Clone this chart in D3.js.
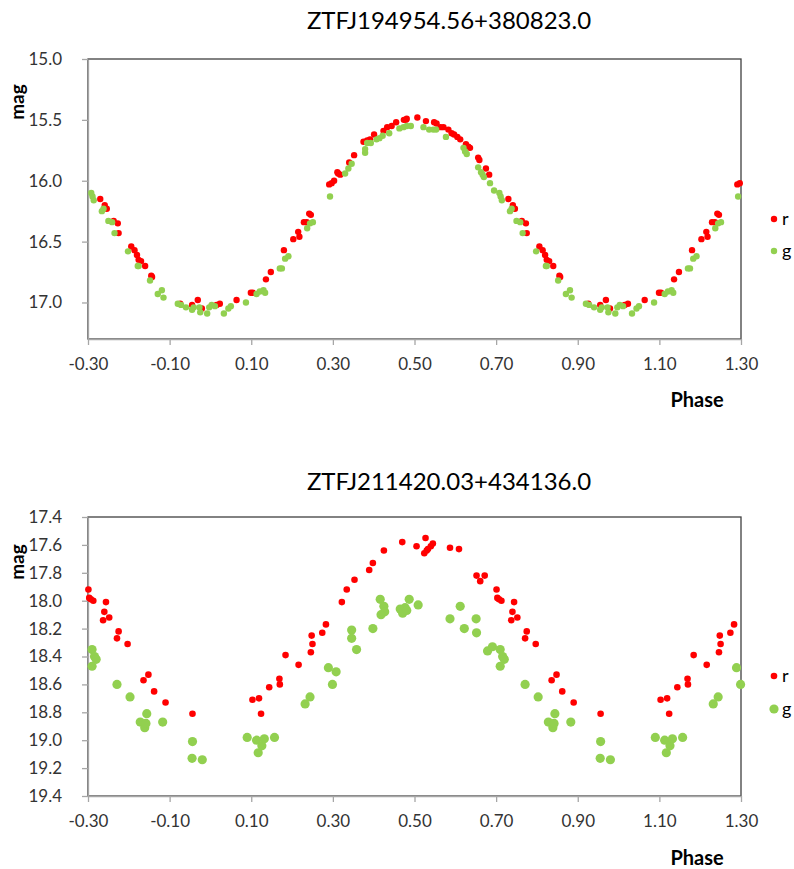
<!DOCTYPE html>
<html>
<head>
<meta charset="utf-8">
<script src="https://cdn.jsdelivr.net/npm/d3@7"></script>
<style>
  body { margin: 0; background: #fff; }
  text { font-family: Lato, "Open Sans", sans-serif; }
</style>
</head>
<body>
<div id="wrapper"></div>
<script>
// phase ticks shared by both panels
const phaseTicks = [-0.30, -0.10, 0.10, 0.30, 0.50, 0.70, 0.90, 1.10, 1.30];

// ZTFJ194954.56+380823.0 -- [phase, mag], phase 0..1
const topR = [[0.015,17.02],[0.023,17.01],[0.064,16.98],[0.099,16.92],[0.104,16.92],[0.136,16.81],[0.148,16.75],
  [0.180,16.57],[0.203,16.48],[0.215,16.42],[0.218,16.46],[0.229,16.34],[0.236,16.34],[0.242,16.27],[0.246,16.28],
  [0.291,16.03],[0.297,16.02],[0.303,16.00],[0.311,15.93],[0.313,15.94],[0.318,15.95],[0.340,15.85],[0.352,15.79],
  [0.375,15.68],[0.384,15.67],[0.391,15.66],[0.401,15.62],[0.424,15.59],[0.433,15.56],[0.444,15.55],[0.455,15.52],
  [0.474,15.50],[0.479,15.50],[0.481,15.49],[0.507,15.48],[0.528,15.51],[0.548,15.52],[0.554,15.53],[0.564,15.56],
  [0.571,15.56],[0.583,15.58],[0.591,15.61],[0.597,15.62],[0.605,15.64],[0.612,15.66],[0.626,15.70],[0.632,15.72],
  [0.636,15.73],[0.656,15.81],[0.659,15.83],[0.675,15.90],[0.683,15.95],[0.730,16.15],[0.741,16.20],[0.746,16.23],
  [0.763,16.33],[0.773,16.35],[0.775,16.43],[0.806,16.54],[0.814,16.57],[0.820,16.61],[0.824,16.65],[0.830,16.66],
  [0.840,16.70],[0.855,16.78],[0.857,16.79],[0.926,17.01],[0.955,17.02],[0.969,16.98],[0.979,17.05]];

const topG = [[0.003,17.02],[0.011,17.03],[0.033,17.09],[0.044,17.05],[0.050,17.03],[0.087,17.00],[0.113,16.93],
  [0.121,16.91],[0.130,16.90],[0.134,16.92],[0.170,16.72],[0.175,16.72],[0.183,16.64],[0.191,16.62],[0.237,16.39],
  [0.244,16.35],[0.251,16.34],[0.293,16.13],[0.330,15.94],[0.338,15.90],[0.346,15.86],[0.379,15.77],[0.379,15.74],
  [0.384,15.69],[0.393,15.69],[0.407,15.66],[0.414,15.65],[0.422,15.63],[0.438,15.61],[0.463,15.57],[0.473,15.56],
  [0.481,15.55],[0.491,15.55],[0.522,15.56],[0.536,15.58],[0.546,15.58],[0.553,15.58],[0.577,15.64],[0.620,15.73],
  [0.624,15.76],[0.628,15.78],[0.656,15.89],[0.663,15.93],[0.667,15.95],[0.670,15.97],[0.685,16.02],[0.695,16.08],
  [0.708,16.10],[0.711,16.13],[0.714,16.16],[0.734,16.25],[0.738,16.23],[0.750,16.33],[0.759,16.34],[0.765,16.43],
  [0.798,16.58],[0.822,16.70],[0.824,16.70],[0.852,16.82],[0.871,16.93],[0.881,16.90],[0.885,16.96],[0.920,17.01],
  [0.928,17.02],[0.940,17.04],[0.955,17.06],[0.959,17.04],[0.973,17.04],[0.975,17.08],[0.992,17.09],[0.997,17.04]];

// ZTFJ211420.03+434136.0 -- [phase, mag], phase 0..1
const botR = [[0.103,18.71],[0.119,18.70],[0.124,18.81],[0.144,18.62],[0.169,18.56],[0.170,18.60],[0.184,18.39],
  [0.216,18.46],[0.246,18.37],[0.248,18.25],[0.250,18.31],[0.274,18.23],[0.283,18.17],[0.322,18.01],[0.334,17.92],
  [0.353,17.85],[0.389,17.78],[0.398,17.73],[0.425,17.64],[0.470,17.58],[0.505,17.61],[0.524,17.66],[0.527,17.55],
  [0.530,17.64],[0.533,17.63],[0.540,17.61],[0.545,17.59],[0.587,17.62],[0.609,17.63],[0.652,17.82],[0.661,17.86],
  [0.672,17.82],[0.701,17.92],[0.703,17.98],[0.707,17.99],[0.713,18.00],[0.737,18.14],[0.740,18.08],[0.744,18.01],
  [0.752,18.12],[0.771,18.27],[0.775,18.22],[0.797,18.31],[0.836,18.57],[0.848,18.53],[0.862,18.65],[0.890,18.73],
  [0.956,18.81]];

const botG = [[0.090,18.98],[0.113,19.00],[0.117,19.09],[0.126,19.04],[0.132,18.99],[0.157,18.98],[0.232,18.74],
  [0.244,18.69],[0.289,18.48],[0.299,18.60],[0.308,18.51],[0.346,18.21],[0.346,18.27],[0.358,18.35],[0.398,18.20],
  [0.416,17.99],[0.425,18.04],[0.427,18.08],[0.418,18.10],[0.465,18.06],[0.471,18.09],[0.477,18.05],[0.481,18.07],
  [0.487,17.99],[0.509,18.03],[0.587,18.13],[0.612,18.04],[0.622,18.20],[0.651,18.13],[0.652,18.23],[0.679,18.36],
  [0.691,18.33],[0.710,18.35],[0.716,18.40],[0.720,18.42],[0.710,18.47],[0.771,18.60],[0.803,18.69],[0.828,18.87],
  [0.839,18.91],[0.842,18.88],[0.844,18.81],[0.883,18.87],[0.955,19.13],[0.956,19.01],[0.980,19.14]];

const topMagTicks = [15.0, 15.5, 16.0, 16.5, 17.0];
const botMagTicks = [17.4, 17.6, 17.8, 18.0, 18.2, 18.4, 18.6, 18.8, 19.0, 19.2, 19.4];

// repeat the cycle edges so phase runs -0.3 .. 1.3
function fold(pts) {
    const out = pts.slice();
    pts.forEach(d => {
        if (d[0] < 0.3) out.push([d[0] + 1, d[1]]);
        if (d[0] >= 0.7) out.push([d[0] - 1, d[1]]);
    });
    return out.filter(d => d[0] >= -0.3 && d[0] <= 1.3);
}

const red = "#ff0000", green = "#92d050";
const left = 88, right = 741;

const svg = d3.select("#wrapper").append("svg")
    .attr("width", 794)
    .attr("height", 869);

const x = d3.scaleLinear().domain([-0.3, 1.3]).range([left, right]);

function panel(o) {
    const y = d3.scaleLinear().domain(o.yDomain).range([o.top, o.bottom]);
    const g = svg.append("g");

    g.append("text")
        .attr("x", 449).attr("y", o.titleY)
        .attr("text-anchor", "middle")
        .style("font-size", "24px").style("fill", "#000")
        .text(o.title);

    // frame
    g.append("rect")
        .attr("x", left).attr("y", o.top)
        .attr("width", right - left).attr("height", o.bottom - o.top)
        .attr("fill", "none").attr("stroke", "#404040").attr("stroke-width", 1.3);

    const xa = g.append("g")
        .attr("transform", `translate(0,${o.bottom})`)
        .call(d3.axisBottom(x).tickValues(phaseTicks).tickFormat(d => d.toFixed(2))
            .tickSize(6).tickSizeOuter(0).tickPadding(13));
    const ya = g.append("g")
        .attr("transform", `translate(${left},0)`)
        .call(d3.axisLeft(y).tickValues(o.yTicks).tickFormat(d => d.toFixed(1))
            .tickSize(6).tickSizeOuter(0).tickPadding(20));
    [xa, ya].forEach(a => {
        a.select(".domain").attr("stroke", "#a6a6a6").attr("stroke-width", 1.3);
        a.selectAll(".tick line").attr("stroke", "#a6a6a6").attr("stroke-width", 1.3);
        a.selectAll(".tick text").style("font-size", "17px").style("fill", "#333")
            .style("font-family", "Lato, 'Open Sans', sans-serif");
    });

    g.append("text")
        .attr("transform", `translate(${o.magX},${o.magY}) rotate(-90)`)
        .attr("text-anchor", "middle")
        .style("font-size", "19px").style("font-weight", "bold")
        .text("mag");
    g.append("text")
        .attr("x", 697).attr("y", o.phaseY)
        .attr("text-anchor", "middle")
        .style("font-size", "20px").style("font-weight", "bold")
        .text("Phase");

    const plot = g.append("g");
    plot.selectAll(".r").data(fold(o.r)).enter().append("circle")
        .attr("cx", d => x(d[0])).attr("cy", d => y(d[1]))
        .attr("r", o.rR).attr("fill", red);
    plot.selectAll(".g").data(fold(o.g)).enter().append("circle")
        .attr("cx", d => x(d[0])).attr("cy", d => y(d[1]))
        .attr("r", o.gR).attr("fill", green);

    const lg = g.append("g");
    [["r", red, o.rR], ["g", green, o.gR]].forEach((s, i) => {
        lg.append("circle").attr("cx", 774).attr("cy", o.legendY[i]).attr("r", s[2]).attr("fill", s[1]);
        lg.append("text").attr("x", 782).attr("y", o.legendY[i]).attr("dy", "0.32em")
            .style("font-size", "18px").text(s[0]);
    });
}

panel({
    title: "ZTFJ194954.56+380823.0", titleY: 29,
    top: 59, bottom: 339, yDomain: [15.0, 17.3], yTicks: topMagTicks,
    r: topR, g: topG, rR: 3.2, gR: 3.2,
    magX: 24, magY: 102, phaseY: 407, legendY: [219, 251]
});

panel({
    title: "ZTFJ211420.03+434136.0", titleY: 490,
    top: 517, bottom: 796, yDomain: [17.4, 19.4], yTicks: botMagTicks,
    r: botR, g: botG, rR: 3.3, gR: 4.6,
    magX: 24, magY: 562, phaseY: 865, legendY: [676, 709]
});
</script>
</body>
</html>
